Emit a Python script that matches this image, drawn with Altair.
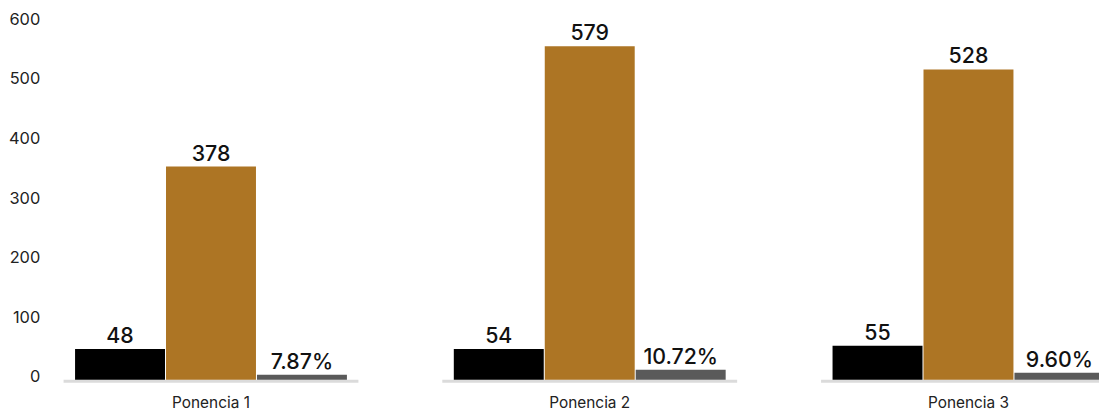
import altair as alt
import pandas as pd

# Data
groups = ["Ponencia 1", "Ponencia 2", "Ponencia 3"]
series = ["A", "B", "C"]
# bar heights as drawn (y-axis units)
heights_a = [51.7, 51.7, 57.0]
heights_b = [358.0, 560.0, 521.0]
heights_c = [8.3, 16.7, 11.7]
# value labels printed above the bars
labels_a = ["48", "54", "55"]
labels_b = ["378", "579", "528"]
labels_c = ["7.87%", "10.72%", "9.60%"]
colors = ["#000000", "#ad7524", "#5a5a5a"]
y_ticks = [0, 100, 200, 300, 400, 500, 600]

rows = []
for i, g in enumerate(groups):
    for s, h, l in zip(series, (heights_a, heights_b, heights_c), (labels_a, labels_b, labels_c)):
        rows.append({"group": g, "series": s, "value": h[i], "label": l[i]})
df = pd.DataFrame(rows)
gdf = pd.DataFrame({"group": groups})

FONT = "Inter"
xscale = alt.Scale(domain=groups, range=[13, 1075], paddingInner=0.2164, paddingOuter=0)
offscale = alt.Scale(domain=series, paddingInner=0.011, paddingOuter=0.137)
yscale = alt.Scale(domain=[0, 600], nice=False)

x_enc = alt.X("group:N", scale=xscale, sort=groups,
              axis=alt.Axis(title=None, labelAngle=0, domain=False, ticks=False,
                            labelFontSize=15.5, labelColor="#222222", labelFont=FONT,
                            labelPadding=16))

base_line = alt.Chart(gdf).mark_tick(color="#cccccc", thickness=3, size=297, yOffset=1.5).encode(
    x=x_enc,
    y=alt.datum(0, scale=yscale),
)

bars = alt.Chart(df).mark_bar().encode(
    x=x_enc,
    xOffset=alt.XOffset("series:N", scale=offscale),
    y=alt.Y("value:Q", scale=yscale,
            axis=alt.Axis(title=None, values=y_ticks, domain=False, ticks=False, grid=False,
                          labelFontSize=16.5, labelColor="#222222", labelFont=FONT,
                          labelPadding=10, labelOffset=-3)),
    color=alt.Color("series:N", scale=alt.Scale(domain=series, range=colors), legend=None),
)

texts = alt.Chart(df).mark_text(baseline="alphabetic", dy=-6, fontSize=21.5, font=FONT,
                                fontWeight=500, color="#111111").encode(
    x=x_enc,
    xOffset=alt.XOffset("series:N", scale=offscale),
    y=alt.Y("value:Q", scale=yscale),
    text="label:N",
)

chart = alt.layer(base_line, bars, texts).properties(
    width=1049,
    height=360,
    autosize=alt.AutoSizeParams(type="none"),
    padding={"left": 42, "top": 13, "right": 8, "bottom": 34},
).configure_view(stroke=None)

chart.save("out.html", embed_options={"renderer": "svg", "actions": False})
